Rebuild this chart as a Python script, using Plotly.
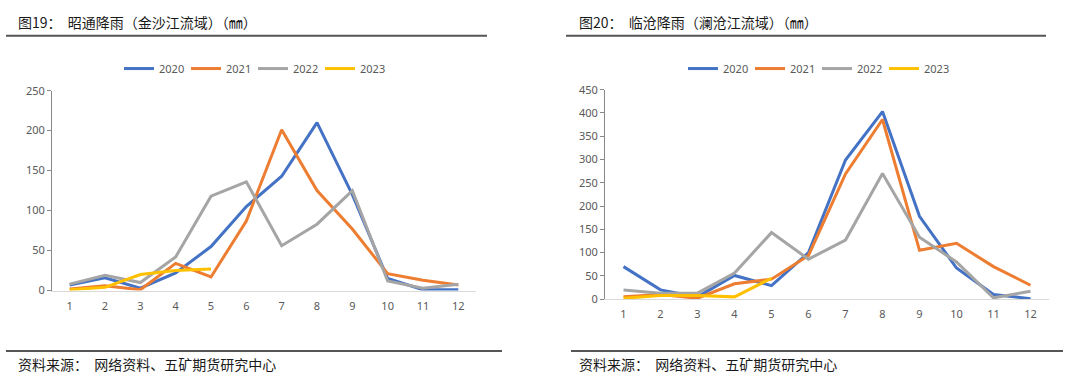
import plotly.graph_objects as go

months = [str(m) for m in range(1, 13)]
years = ["2020", "2021", "2022", "2023"]
colors = ["#4472C4", "#ED7D31", "#A5A5A5", "#FFC000"]

# 图19 昭通降雨（金沙江流域）
zt_2020 = [7, 16, 3, 22, 55, 105, 143, 210, 120, 15, 1, 1]
zt_2021 = [2, 6, 1, 34, 17, 87, 201, 125, 77, 21, 13, 7]
zt_2022 = [8, 19, 10, 42, 118, 136, 56, 83, 125, 12, 3, 8]
zt_2023 = [1, 4, 20, 25, 27]

# 图20 临沧降雨（澜沧江流域）
lc_2020 = [70, 20, 5, 51, 29, 100, 299, 403, 178, 67, 10, 1]
lc_2021 = [5, 10, 2, 33, 43, 94, 269, 386, 105, 120, 70, 30]
lc_2022 = [20, 13, 13, 56, 143, 86, 127, 270, 133, 80, 3, 17]
lc_2023 = [2, 8, 8, 5, 45]

title_left = "图19：  昭通降雨（金沙江流域）（㎜）"
title_right = "图20：  临沧降雨（澜沧江流域）（㎜）"
source_text = "资料来源：  网络资料、五矿期货研究中心"

W, H = 1080, 385
def px(x):
    return x / W
def py(y):
    return (H - y) / H

fig = go.Figure()
left_series = [zt_2020, zt_2021, zt_2022, zt_2023]
right_series = [lc_2020, lc_2021, lc_2022, lc_2023]
for name, c, vals in zip(years, colors, left_series):
    fig.add_trace(go.Scatter(x=months[:len(vals)], y=vals, name=name, mode="lines",
                             line=dict(color=c, width=3), xaxis="x", yaxis="y",
                             legend="legend"))
for name, c, vals in zip(years, colors, right_series):
    fig.add_trace(go.Scatter(x=months[:len(vals)], y=vals, name=name, mode="lines",
                             line=dict(color=c, width=3), xaxis="x2", yaxis="y2",
                             legend="legend2"))

tickfont = dict(family="Noto Sans, DejaVu Sans", size=11, color="#595959")
xcommon = dict(type="category", range=[-0.5, 11.5], showline=True, linecolor="#D9D9D9",
               linewidth=1, ticks="", showgrid=False, zeroline=False, tickfont=tickfont,
               ticklabelstandoff=5, fixedrange=True)
ycommon = dict(showline=True, linecolor="#898989", linewidth=1, ticks="outside", ticklen=4,
               tickcolor="#898989", showgrid=False, zeroline=False, tickfont=tickfont)

legfont = dict(family="Noto Sans, DejaVu Sans", size=11, color="#595959")
legcommon = dict(orientation="h", xanchor="center", y=py(63), yanchor="middle",
                 font=legfont, bgcolor="rgba(0,0,0,0)", itemwidth=30, tracegroupgap=0,
                 entrywidth=22, entrywidthmode="pixels")
fig.update_layout(
    width=W, height=H, margin=dict(l=0, r=0, t=0, b=0),
    paper_bgcolor="white", plot_bgcolor="white",
    xaxis=dict(domain=[px(52), px(476)], anchor="y", **xcommon),
    yaxis=dict(domain=[py(294), py(86)], anchor="x", range=[0, 250], dtick=50, **ycommon),
    xaxis2=dict(domain=[px(605), px(1049)], anchor="y2", **xcommon),
    yaxis2=dict(domain=[py(303), py(85)], anchor="x2", range=[0, 450], dtick=50, **ycommon),
    legend=dict(x=px(253), **legcommon),
    legend2=dict(x=px(817), **legcommon),
)

cjk = "Noto Sans CJK SC"
annos = [
    dict(text=title_left, x=px(16), y=py(15), xanchor="left", yanchor="middle"),
    dict(text=title_right, x=px(577), y=py(15), xanchor="left", yanchor="middle"),
    dict(text=source_text, x=px(16), y=py(370), xanchor="left", yanchor="middle"),
    dict(text=source_text, x=px(577), y=py(370), xanchor="left", yanchor="middle"),
]
for a in annos:
    fig.add_annotation(xref="paper", yref="paper", showarrow=False,
                       font=dict(family=cjk, size=14, color="#1a1a1a"), **a)

lines = [(6, 487, 29), (566, 1046, 29), (6, 502, 357), (571, 1063, 357)]
for x0, x1, y in lines:
    fig.add_shape(type="line", xref="paper", yref="paper", x0=px(x0), x1=px(x1),
                  y0=py(y), y1=py(y), line=dict(color="#555555", width=2))

post = """
document.documentElement.style.cssText='margin:0;padding:0;overflow:hidden;height:385px;';
document.body.style.cssText='margin:0;padding:0;overflow:hidden;height:385px;';
var d=document.getElementById('{plot_id}');
d.style.position='absolute'; d.style.left='0px'; d.style.top='0px';
"""
fig.write_html("out.html", config={"displayModeBar": False}, post_script=post)
